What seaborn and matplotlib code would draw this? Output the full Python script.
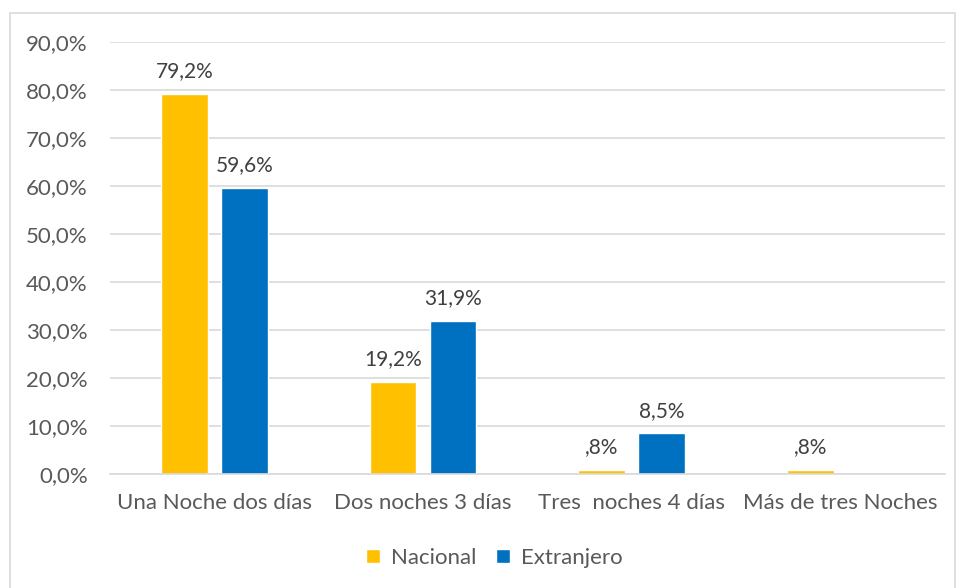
import numpy as np
import pandas as pd
import matplotlib
matplotlib.use("Agg")
import matplotlib.pyplot as plt
from matplotlib.patches import Rectangle
import seaborn as sns

categorias = ["Una Noche dos días", "Dos noches 3 días", "Tres  noches 4 días", "Más de tres Noches"]
nacional = [79.2, 19.2, 0.8, 0.8]
extranjero = [59.6, 31.9, 8.5, 0.0]
series = ["Nacional", "Extranjero"]
colores = ["#FFC000", "#0070C0"]
y_ticks = [0, 10, 20, 30, 40, 50, 60, 70, 80, 90]

df = pd.DataFrame({
    "categoria": categorias * 2,
    "serie": [series[0]] * 4 + [series[1]] * 4,
    "valor": nacional + extranjero,
})

sns.set_style("white")
plt.rcParams["font.family"] = ["Lato", "DejaVu Sans"]
txt = "#595959"

fig = plt.figure(figsize=(9.6, 5.88), dpi=100)
ax = fig.add_axes([0.1146, 0.194, 0.8694, 0.7346])

sns.barplot(data=df, x="categoria", y="valor", hue="serie", order=categorias,
            hue_order=series, palette=colores, width=0.575, gap=0.22,
            saturation=1, ax=ax, legend=True)

for cont in ax.containers:
    labels = []
    for bar in cont:
        v = bar.get_height()
        if v == 0:
            labels.append("")
        else:
            s = f"{v:.1f}".replace(".", ",")
            if s.startswith("0,"):
                s = s[1:]
            labels.append(s + "%")
    ax.bar_label(cont, labels=labels, padding=9, fontsize=15, color="#404040")

ax.set_ylim(0, 90)
ax.set_yticks(y_ticks)
ax.set_yticklabels([f"{t:.1f}".replace(".", ",") + "%" for t in y_ticks])
ax.set_xlim(-0.5, 3.5)
ax.yaxis.grid(True, color="#D9D9D9", linewidth=1.2)
ax.set_axisbelow(True)
for sp in ["top", "right", "left"]:
    ax.spines[sp].set_visible(False)
ax.spines["bottom"].set_color("#D9D9D9")
ax.spines["bottom"].set_linewidth(1.2)
ax.tick_params(axis="both", length=0, labelsize=16, labelcolor=txt)
ax.tick_params(axis="x", pad=14)
ax.tick_params(axis="y", pad=16)
ax.set_xlabel("")
ax.set_ylabel("")

leg = ax.legend(loc="center", bbox_to_anchor=(0.515, 0.051), bbox_transform=fig.transFigure,
                ncol=2, frameon=False, fontsize=16, handlelength=0.6, handleheight=0.6,
                handletextpad=0.5, columnspacing=0.9)
for t in leg.get_texts():
    t.set_color(txt)

fig.patches.append(Rectangle((10 / 960, -0.01), 945 / 960, 1 - 13 / 588 + 0.01,
                             transform=fig.transFigure, fill=False,
                             edgecolor="#D9D9D9", linewidth=1.2))

fig.savefig("out.png", dpi=100)
